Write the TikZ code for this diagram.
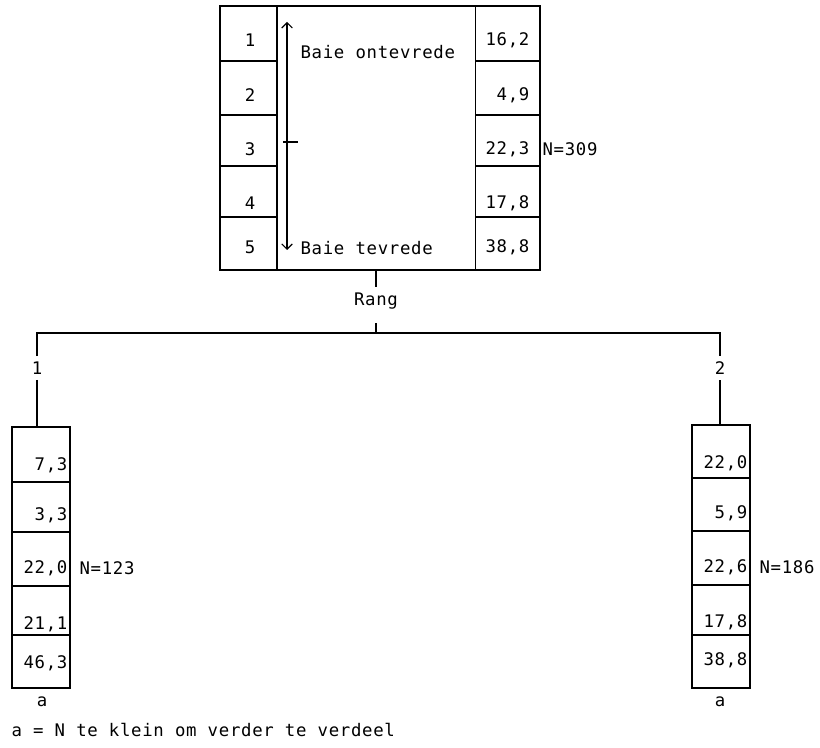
\documentclass[tikz,border=0pt]{standalone}
\usepackage{fontspec}
\setmonofont[LetterSpace=4]{DejaVu Sans Mono}
\usetikzlibrary{arrows.meta}
\begin{document}
\begin{tikzpicture}[
  x=0.75pt, y=-0.75pt,
  every node/.style={font=\ttfamily\fontsize{13}{15}\selectfont, inner sep=1pt},
  box/.style={draw, line width=1.3pt},
  rule/.style={line width=1.1pt},
  conn/.style={line width=0.8pt},
  val/.style={anchor=east},
  lbl/.style={inner sep=4pt}
]
  \useasboundingbox (0,0) rectangle (820,748);

  % Hooftabel
  \draw[box] (220,6) rectangle (540,270);
  \draw[rule] (277,6) -- (277,270);
  \draw[line width=0.6pt] (475,6) -- (475,270);
  \foreach \y in {61,115,166,217} {
    \draw[rule] (220,\y) -- (277,\y);
    \draw[rule] (475,\y) -- (540,\y);
  }
  \foreach \n/\y in {1/40,2/95,3/149,4/203,5/247} {
    \node (r\n) at (250,\y) {\n};
  }
  \foreach \n/\v/\y in {1/{16,2}/40,2/{4,9}/95,3/{22,3}/149,4/{17,8}/203,5/{38,8}/247} {
    \node[val] (w\n) at (531,\y) {\v};
  }
  \node[anchor=west] (n0) at (541,149) {N=309};

  % Skaal
  \coordinate (bo) at (287,22);
  \coordinate (onder) at (287,250);
  \draw[{Straight Barb[length=4pt]}-{Straight Barb[length=4pt]}, conn] (bo) -- (onder);
  \draw[conn] (283,142) -- (298,142);
  \node[anchor=west] (ontevrede) at (299,52) {Baie ontevrede};
  \node[anchor=west] (tevrede) at (299,248) {Baie tevrede};

  % Verdeling volgens rang
  \coordinate (wortel) at (376,270);
  \node[lbl] (rang) at (376,301) {Rang};
  \draw[conn] (wortel) -- (rang);
  \coordinate (splitop) at (376,323);
  \coordinate (split) at (376,333);
  \draw[conn] (splitop) -- (split);
  \node[lbl] (tak1) at (37,368) {1};
  \node[lbl] (tak2) at (720,368) {2};
  \draw[conn] (tak1.north) |- (split) -| (tak2.north);
  \coordinate (kol1) at (37,427);
  \coordinate (kol2) at (720,425);
  \draw[conn] (tak1.south) -- (kol1);
  \draw[conn] (tak2.south) -- (kol2);

  % Rang 1
  \draw[box] (12,427) rectangle (70,688);
  \foreach \y in {482,532,586,635} {
    \draw[rule] (12,\y) -- (70,\y);
  }
  \foreach \n/\v/\y in {1/{7,3}/465,2/{3,3}/515,3/{22,0}/568,4/{21,1}/624,5/{46,3}/663} {
    \node[val] (a\n) at (69,\y) {\v};
  }
  \node[anchor=west] (n1) at (78,568) {N=123};
  \node (voet1) at (42,702) {a};

  % Rang 2
  \draw[box] (692,425) rectangle (750,688);
  \foreach \y in {478,531,585,635} {
    \draw[rule] (692,\y) -- (750,\y);
  }
  \foreach \n/\v/\y in {1/{22,0}/463,2/{5,9}/513,3/{22,6}/567,4/{17,8}/622,5/{38,8}/660} {
    \node[val] (b\n) at (749,\y) {\v};
  }
  \node[anchor=west] (n2) at (758,567) {N=186};
  \node (voet2) at (720,702) {a};

  % Voetnoot
  \node[anchor=west] (noot) at (10,730) {a = N te klein om verder te verdeel};
\end{tikzpicture}
\end{document}
